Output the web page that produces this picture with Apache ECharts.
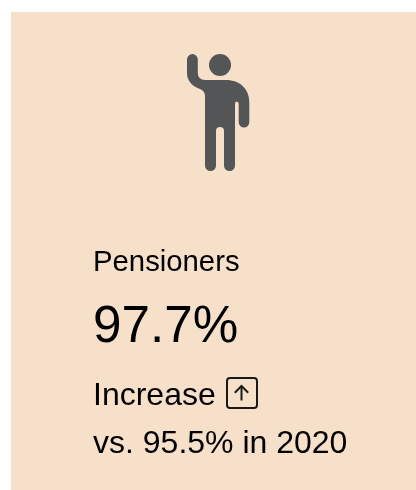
<!DOCTYPE html>
<html><head><meta charset="utf-8">
<style>html,body{margin:0;padding:0;background:#fff}#c{width:416px;height:490px}</style>
<script src="https://cdn.jsdelivr.net/npm/echarts@6/dist/echarts.min.js"></script>
</head><body><div id="c"></div>
<script>
const category = 'Pensioners';
const currentValue = 97.7;
const previousValue = 95.5;
const previousYear = 2020;
const direction = 'Increase';
const font = '"Liberation Sans", Arial, sans-serif';
const ink = '#000000';
const iconPath = 'M187 59.5a5.4 5.4 0 0 1 10.8 0V73Q198 80 205 80H226C240 80 249.3 89 249.3 102V122.3a5.3 5.3 0 0 1-10.6 0V104Q238.7 101.5 236.8 101.5Q235 101.5 235 104V165.5a5.5 5.5 0 0 1-11 0V131a4 4 0 0 0-8 0V165.5a5.5 5.5 0 0 1-11 0V96Q205 91 200 89Q187 84 187 73Z';
echarts.graphic.registerShape('personIcon', echarts.graphic.extendPath(iconPath, {}));
function label(text, y, size) {
  return {type:'text', x:93, y:y, silent:true,
    style:{text:text, fontFamily:font, fontSize:size, fill:ink}};
}
const chart = echarts.init(document.getElementById('c'), null, {renderer:'canvas'});
chart.setOption({
  animation:false,
  graphic:[
    {type:'rect', shape:{x:11,y:12,width:405,height:478}, style:{fill:'#f7e0ca'}, silent:true},
    {type:'circle', shape:{cx:220,cy:65,r:11}, style:{fill:'#545556'}, silent:true},
    {type:'personIcon', style:{fill:'#545556'}, silent:true},
    label(category, 248, 29.3),
    label(currentValue.toFixed(1)+'%', 302, 51.2),
    label(direction, 380, 32),
    label('vs. '+previousValue.toFixed(1)+'% in '+previousYear, 428, 32),
    {type:'rect', shape:{x:227,y:378,width:30,height:30,r:3}, style:{fill:'none',stroke:'#1a1a1a',lineWidth:2}, silent:true},
    {type:'polyline', shape:{points:[[241.5,400.5],[241.5,386]]}, style:{fill:'none',stroke:'#1a1a1a',lineWidth:2}, silent:true},
    {type:'polyline', shape:{points:[[234.8,392.7],[241.5,386],[248.2,392.7]]}, style:{fill:'none',stroke:'#1a1a1a',lineWidth:2}, silent:true}
  ]
});
</script></body></html>
